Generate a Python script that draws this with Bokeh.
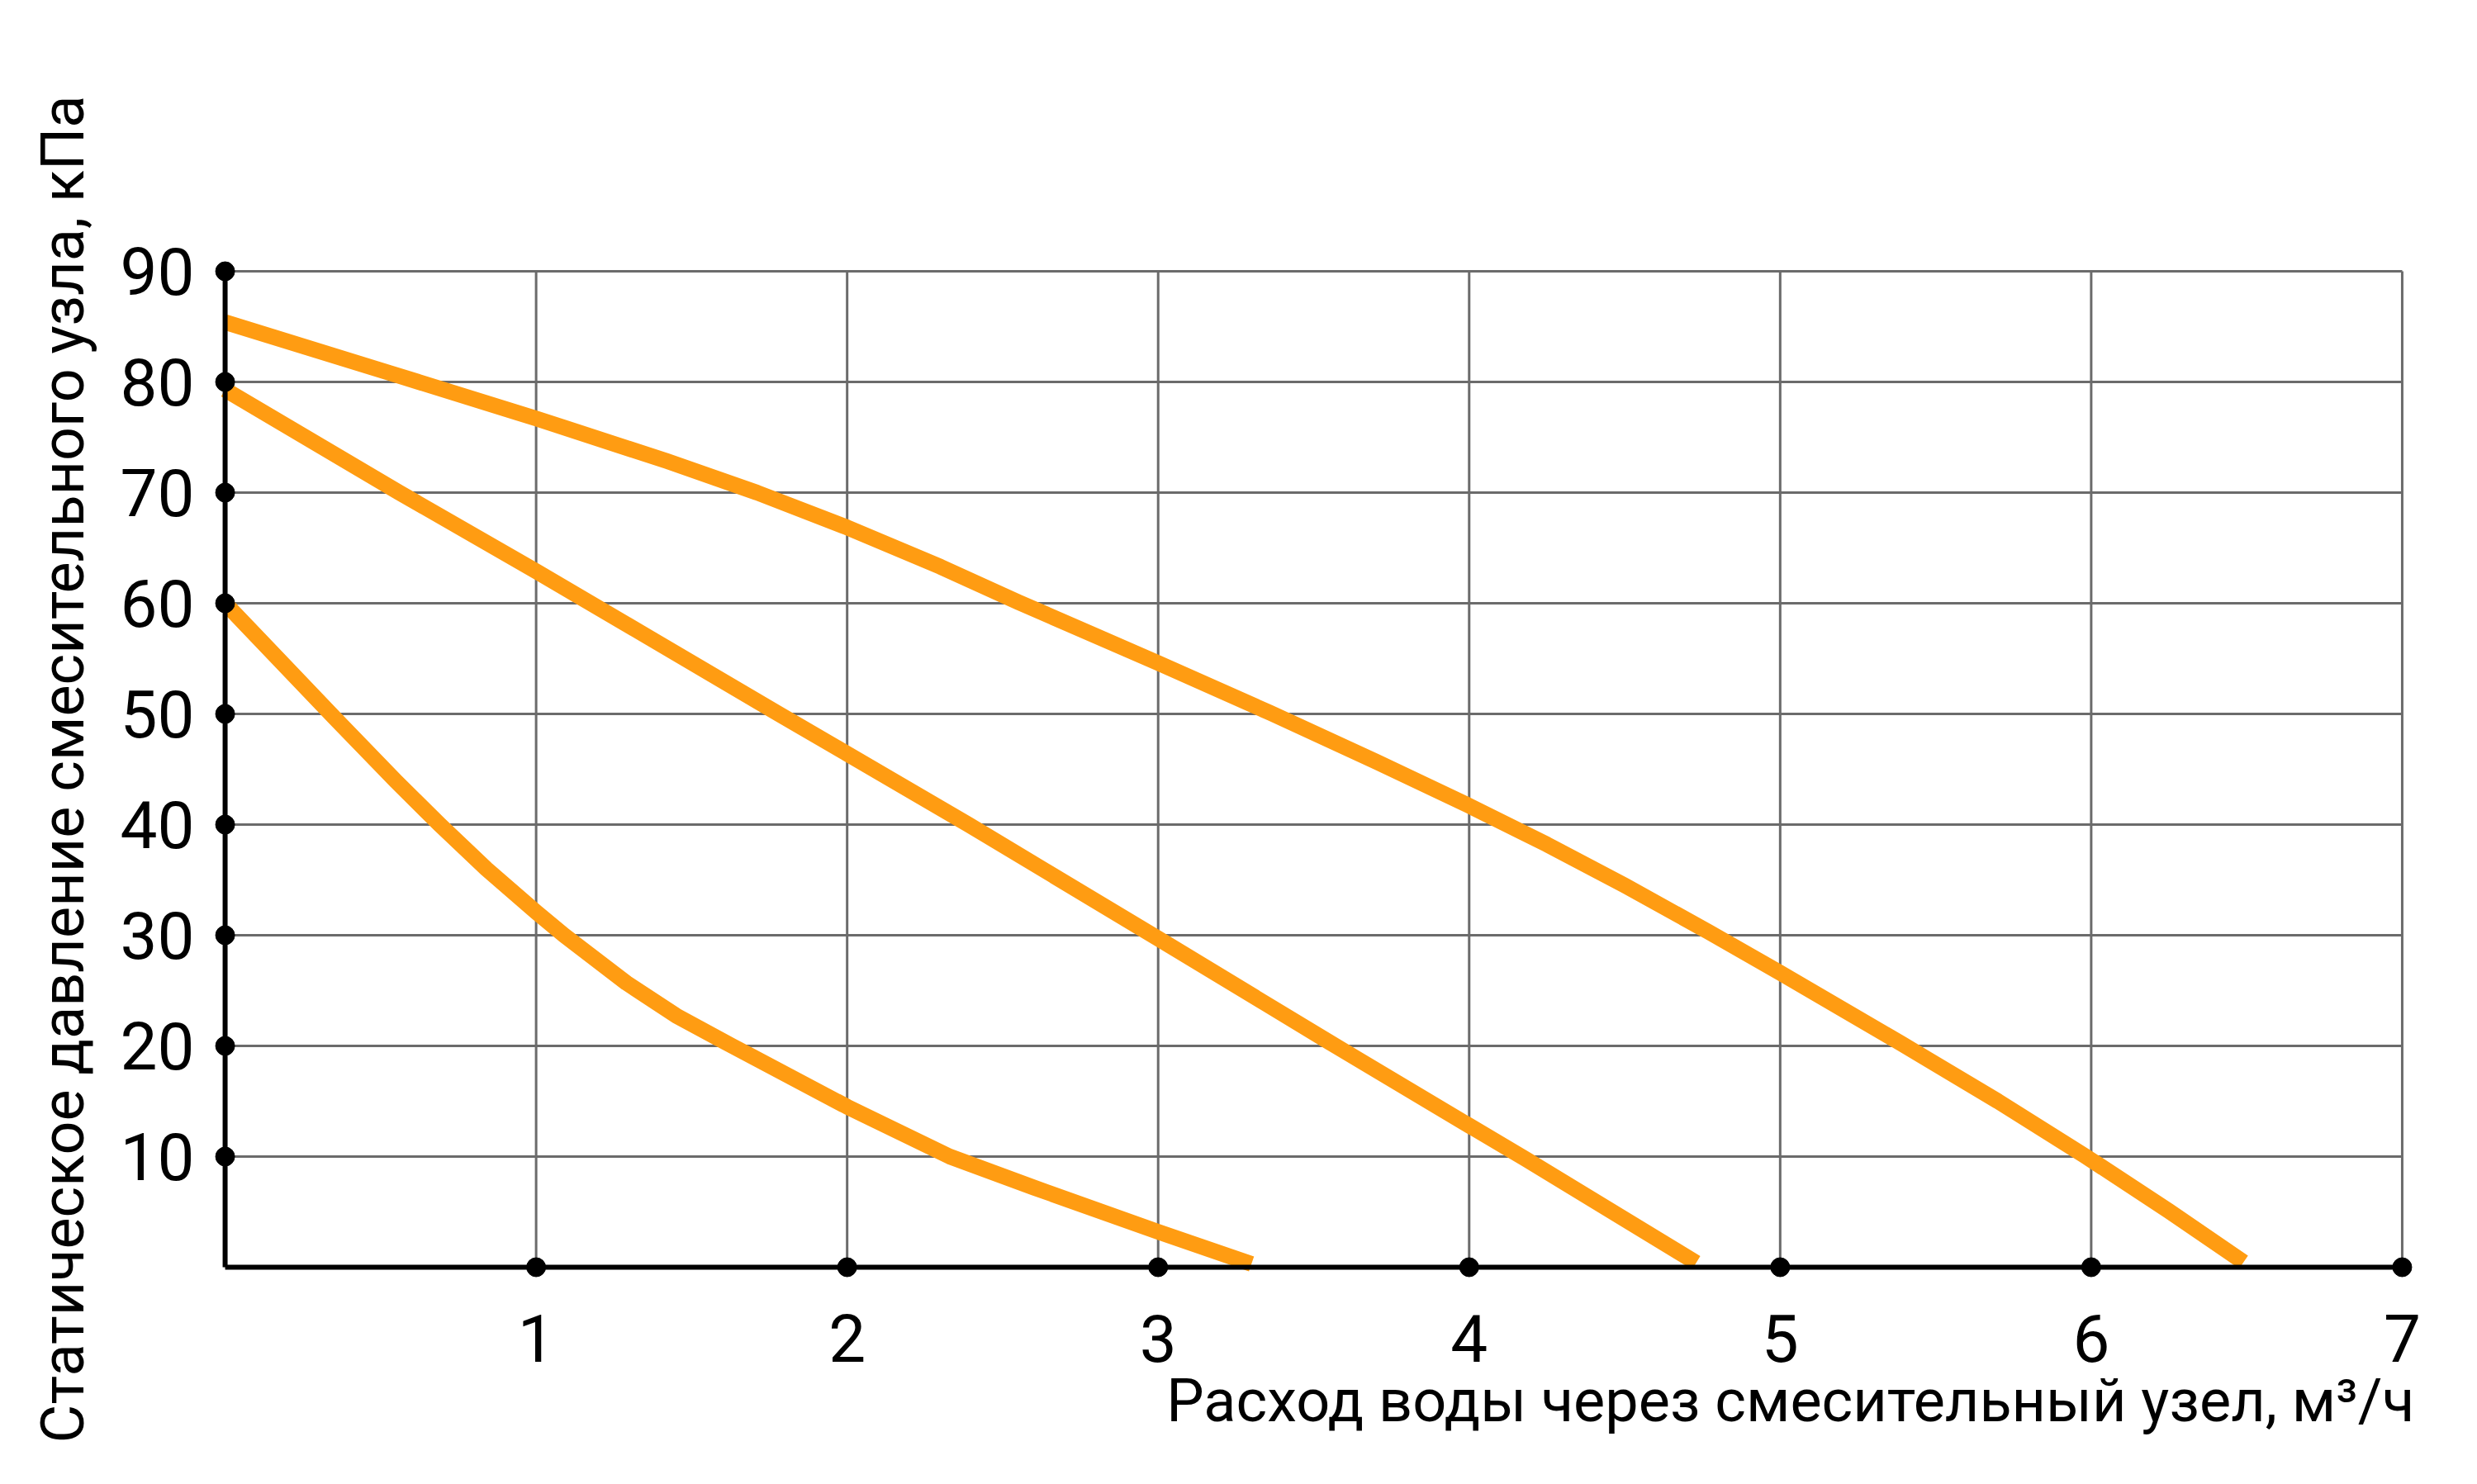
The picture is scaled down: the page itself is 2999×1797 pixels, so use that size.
from bokeh.plotting import figure
from bokeh.models import Range1d, FixedTicker, Title
from bokeh.embed import file_html
from bokeh.resources import INLINE

# axis ticks
flow_ticks = [1, 2, 3, 4, 5, 6, 7]
pressure_ticks = [10, 20, 30, 40, 50, 60, 70, 80, 90]

# curves (flow m3/h, pressure kPa)
flow_top = [0, 0.53, 1.0, 1.42, 1.71, 2.0, 2.3, 2.55, 3.0, 3.36, 3.7, 4.0, 4.25, 4.5, 4.77, 5.0, 5.39, 5.7, 5.98, 6.25, 6.49]
press_top = [85.4, 80.8, 76.7, 72.85, 70, 66.85, 63.3, 60.1, 54.6, 50.1, 45.7, 41.7, 38.2, 34.5, 30.3, 26.6, 20.2, 15.0, 10.06, 5.07, 0.46]

flow_mid = [0, 0.56, 1.0, 1.78, 2.0, 2.39, 3.0, 3.57, 4.0, 4.18, 4.73]
press_mid = [79.3, 70, 62.9, 50, 46.4, 40, 29.7, 20, 12.8, 9.8, 0.4]

flow_low = [0, 0.35, 0.55, 0.69, 0.84, 1.0, 1.09, 1.29, 1.45, 1.63, 2.0, 2.33, 2.6, 3.0, 3.30]
press_low = [60, 49.7, 43.9, 40, 36.0, 32.1, 30, 25.7, 22.74, 20, 14.5, 10, 7.2, 3.2, 0.3]

FONT = "Roboto"
ORANGE = "#FF9C12"
GRID = "#6B6B6B"

p = figure(width=2983, height=1781,
           x_range=Range1d(-0.04, 7.04), y_range=Range1d(-1.12, 91.12),
           output_backend="svg", toolbar_location=None,
           min_border_left=257, min_border_right=60,
           min_border_top=313, min_border_bottom=232)
p.outline_line_color = None
p.grid.visible = False
p.background_fill_color = "white"
p.border_fill_color = "white"

# grid lines, only inside the 0..7 x 0..90 box
p.segment(x0=0, x1=7, y0=pressure_ticks, y1=pressure_ticks, line_color=GRID, line_width=3)
p.segment(x0=flow_ticks, x1=flow_ticks, y0=0, y1=90, line_color=GRID, line_width=3)

# curves
for xs, ys in [(flow_top, press_top), (flow_mid, press_mid), (flow_low, press_low)]:
    p.line(xs, ys, line_color=ORANGE, line_width=19, line_cap="butt", line_join="round")

# axis lines and tick dots
p.segment(x0=[0, 0], y0=[0, 0], x1=[0, 7], y1=[90, 0], line_color="black", line_width=6)
p.scatter([0] * len(pressure_ticks), pressure_ticks, size=23, color="black")
p.scatter(flow_ticks, [0] * len(flow_ticks), size=23, color="black")

for ax in (p.xaxis[0], p.yaxis[0]):
    ax.axis_line_color = None
    ax.major_tick_line_color = None
    ax.minor_tick_line_color = None
    ax.major_tick_out = 0
    ax.major_tick_in = 0
    ax.major_label_text_font = FONT
    ax.major_label_text_font_size = "80px"
    ax.major_label_text_color = "black"

p.xaxis.ticker = FixedTicker(ticks=flow_ticks)
p.yaxis.ticker = FixedTicker(ticks=pressure_ticks)
p.xaxis.major_label_standoff = 42
p.yaxis.major_label_standoff = 22

p.yaxis.axis_label = "Статическое давление смесительного узла, кПа"
p.yaxis.axis_label_text_font = FONT
p.yaxis.axis_label_text_font_size = "72px"
p.yaxis.axis_label_text_font_style = "normal"
p.yaxis.axis_label_text_color = "black"
p.yaxis.axis_label_standoff = 24

p.add_layout(Title(text="Расход воды через смесительный узел, м³/ч", align="right",
                   text_font=FONT, text_font_size="72px", text_font_style="normal",
                   text_color="black", standoff=0, offset=0), "below")

open("out.html", "w").write(file_html(p, INLINE))
